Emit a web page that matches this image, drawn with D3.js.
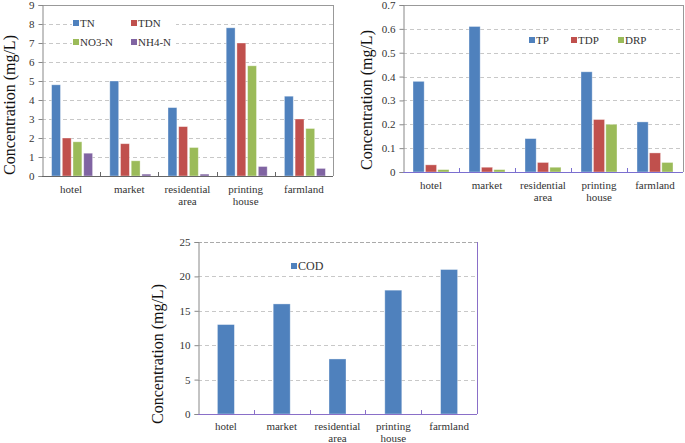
<!DOCTYPE html>
<html><head><meta charset="utf-8">
<script src="https://cdn.jsdelivr.net/npm/d3@7"></script>
<style>
body{margin:0;background:#fff;}
svg{display:block;}
</style></head>
<body>
<svg id="c" width="685" height="443"></svg>
<script>
const categories = [["hotel"],["market"],["residential","area"],["printing","house"],["farmland"]];
const catKeys = ["hotel","market","residential area","printing house","farmland"];

const nSeries = ["TN","TDN","NO3-N","NH4-N"];
const TN   = [4.8, 5.0, 3.6, 7.8, 4.2];
const TDN  = [2.0, 1.7, 2.6, 7.0, 3.0];
const NO3N = [1.8, 0.8, 1.5, 5.8, 2.5];
const NH4N = [1.2, 0.1, 0.1, 0.5, 0.4];
const nTicks = [0,1,2,3,4,5,6,7,8,9];

const pSeries = ["TP","TDP","DRP"];
const TP  = [0.38, 0.61, 0.14, 0.42, 0.21];
const TDP = [0.03, 0.02, 0.04, 0.22, 0.08];
const DRP = [0.01, 0.01, 0.02, 0.20, 0.04];
const pTicks = [0,0.1,0.2,0.3,0.4,0.5,0.6,0.7];

const cSeries = ["COD"];
const COD = [13, 16, 8, 18, 21];
const cTicks = [0,5,10,15,20,25];

const colors = {TN:"#4F81BD",TDN:"#C0504D","NO3-N":"#9BBB59","NH4-N":"#8064A2",
                TP:"#4F81BD",TDP:"#C0504D",DRP:"#9BBB59",COD:"#4F81BD"};

const FONT = "Liberation Serif, Times New Roman, serif";
const svg = d3.select("#c").attr("font-family",FONT);

function chart(o){
  const g = svg.append("g").attr("font-family",FONT);
  const x0 = d3.scaleBand().domain(catKeys).range([o.left,o.right]);
  const bw = x0.bandwidth();
  const x1 = d3.scaleBand().domain(o.series).range([(bw-o.gw)/2+o.shift,(bw+o.gw)/2+o.shift]).paddingInner(o.pad);
  const y = d3.scaleLinear().domain([0,o.max]).range([o.bottom,o.top]);

  g.append("g").selectAll("line").data(o.ticks.slice(1,-1)).join("line")
    .attr("x1",o.left).attr("x2",o.right)
    .attr("y1",d=>Math.round(y(d))+0.5).attr("y2",d=>Math.round(y(d))+0.5)
    .attr("stroke","#c8c8c8").attr("stroke-dasharray","4,3");
  g.append("line").attr("x1",o.left).attr("x2",o.right)
    .attr("y1",Math.round(y(o.max))+0.5).attr("y2",Math.round(y(o.max))+0.5)
    .attr("stroke",o.topColor).attr("stroke-dasharray",o.topDash||null);
  g.append("line").attr("x1",o.right+0.5).attr("x2",o.right+0.5)
    .attr("y1",y(o.max)).attr("y2",o.bottom).attr("stroke",o.rightColor);

  o.series.forEach((s,si)=>{
    g.append("g").selectAll("rect").data(o.values[si]).join("rect")
      .attr("x",(d,i)=>x0(catKeys[i])+x1(s))
      .attr("width",x1.bandwidth())
      .attr("y",d=>y(d)).attr("height",d=>o.bottom-y(d))
      .attr("fill",colors[s]).attr("stroke","#ffffff").attr("stroke-opacity",0.45).attr("stroke-width",0.8);
  });

  const ya = d3.axisLeft(y).tickValues(o.ticks).tickSize(4).tickFormat(o.fmt);
  const yg = g.append("g").attr("transform",`translate(${o.left+0.5},0)`).call(ya)
    .attr("font-family",FONT);
  yg.select(".domain").attr("stroke","#888");
  yg.selectAll(".tick line").attr("stroke","#888");
  yg.selectAll("text").attr("font-size",11).attr("fill","#333").attr("x",-8);

  g.append("line").attr("x1",o.left).attr("x2",o.right)
    .attr("y1",o.bottom+0.5).attr("y2",o.bottom+0.5).attr("stroke",o.xColor);
  g.append("g").selectAll("line").data(catKeys.slice(1)).join("line")
    .attr("x1",d=>Math.round(x0(d))+0.5).attr("x2",d=>Math.round(x0(d))+0.5)
    .attr("y1",o.bottom).attr("y2",o.bottom-4).attr("stroke",o.xColor);
  const lab = g.append("g").selectAll("text").data(categories).join("text")
    .attr("x",(d,i)=>x0(catKeys[i])+bw/2).attr("y",o.labelY)
    .attr("text-anchor","middle").attr("font-size",11).attr("fill","#333");
  lab.selectAll("tspan").data(d=>d).join("tspan")
    .attr("x",function(){return d3.select(this.parentNode).attr("x");})
    .attr("dy",(d,i)=>i===0?0:12).text(d=>d);

  g.append("text").attr("transform",`translate(${o.ylabX},${o.ylabY}) rotate(-90)`)
    .attr("text-anchor","middle").attr("font-size",16).attr("fill","#111")
    .text("Concentration (mg/L)");

  if(o.legBox){
    g.append("rect").attr("x",o.legBox[0]).attr("y",o.legBox[1]).attr("width",o.legBox[2]).attr("height",o.legBox[3]).attr("fill","#fff");
  }
  o.legend.forEach((L,i)=>{
    g.append("rect").attr("x",L[0]).attr("y",L[1]-3).attr("width",6).attr("height",6).attr("fill",colors[o.series[i]]);
    g.append("text").attr("x",L[0]+7).attr("y",L[1]+4).attr("font-size",o.legFont||11).attr("fill","#333").text(o.series[i]);
  });
}

chart({left:42,right:333,top:5,bottom:176,max:9,ticks:nTicks,fmt:d3.format("d"),
  series:nSeries,values:[TN,TDN,NO3N,NH4N],gw:41,pad:0.17,shift:1,
  topColor:"#999",rightColor:"#999",xColor:"#666",labelY:193,ylabX:15,ylabY:105,
  legBox:[72,15,104,35],
  legend:[[73,23],[131,23],[73,42],[131,42]]});

chart({left:403,right:683,top:5,bottom:172,max:0.7,ticks:pTicks,fmt:d=>d===0?"0":d3.format(".1f")(d),
  series:pSeries,values:[TP,TDP,DRP],gw:36,pad:0.1,shift:0,
  topColor:"#999",rightColor:"#999",xColor:"#7b6fd0",labelY:189,ylabX:372,ylabY:100,
  legend:[[529,40],[571,40],[618,40]]});

chart({left:198,right:477,top:242,bottom:414,max:25,ticks:cTicks,fmt:d3.format("d"),
  series:cSeries,values:[COD],gw:17,pad:0,shift:0,
  topColor:"#aaa",topDash:"4,2",rightColor:"#8a6fc8",xColor:"#8a6fc8",labelY:430,ylabX:163,ylabY:354,
  legend:[[291,266]],legFont:12});
</script>
</body></html>
